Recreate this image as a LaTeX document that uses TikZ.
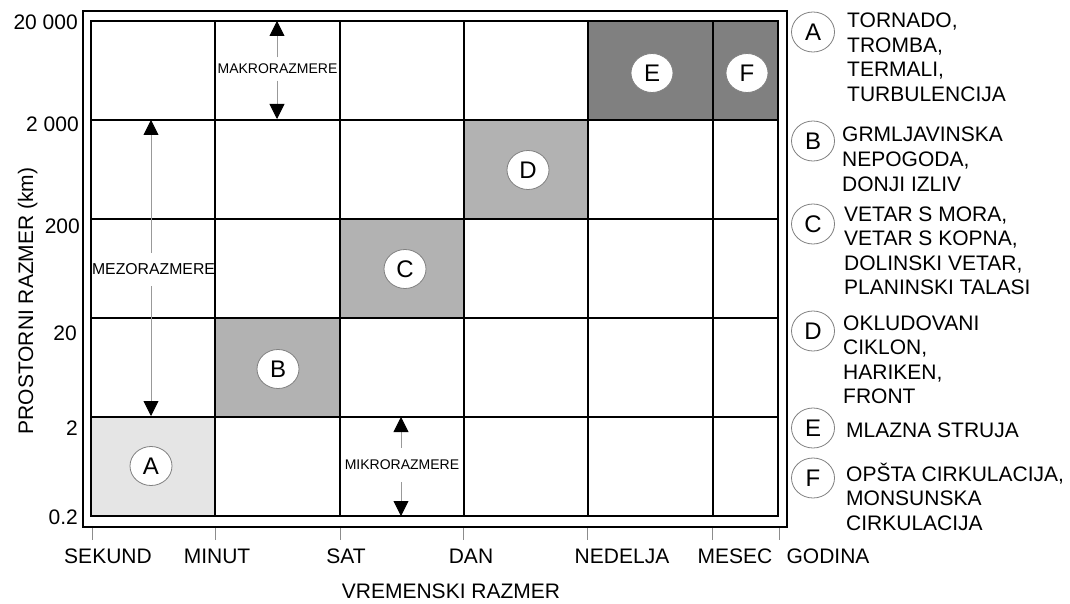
\documentclass[tikz,border=0pt]{standalone}
\usepackage{fontspec}
\setmainfont{Liberation Sans}
\usetikzlibrary{arrows.meta,shapes.geometric}
\definecolor{cellA}{gray}{0.9}
\definecolor{cellB}{gray}{0.7}
\definecolor{cellE}{gray}{0.5}
\definecolor{tickgray}{gray}{0.55}
\definecolor{shaftgray}{gray}{0.6}
\tikzset{
  gridline/.style={line width=2pt,black},
  tag/.style={ellipse, draw=gray, line width=0.8pt, fill=white, minimum width=42pt, minimum height=39pt, inner sep=0pt, font=\fontsize{24}{24}\selectfont},
  lbl/.style={font=\fontsize{21}{24.5}\selectfont, inner sep=0pt},
  leg/.style={lbl, align=left, anchor=base west},
  scalelbl/.style={inner xsep=0pt},
  dimarrow/.style={draw=shaftgray, line width=0.9pt, -{Triangle[length=15pt,width=15pt,color=black]}},
  tickmark/.style={draw=tickgray, line width=1pt},
}
\begin{document}
\begin{tikzpicture}[x=1pt,y=-1pt]
\useasboundingbox (0,0) rectangle (1070,604);
% cell fills
\fill[cellA] (91,417) rectangle (215,516);
\fill[cellB] (215,318) rectangle (340,417);
\fill[cellB] (340,219) rectangle (464,318);
\fill[cellB] (464,120) rectangle (588,219);
\fill[cellE] (588,21) rectangle (713,120);
\fill[cellE] (713,21) rectangle (778,120);
% frame and grid
\draw[gridline] (83,11) rectangle (787,527);
\draw[gridline] (91,21) rectangle (778,516);
\foreach \y in {120,219,318,417} \draw[gridline] (91,\y) -- (778,\y);
\foreach \x in {215,340,464,588,713} \draw[gridline] (\x,21) -- (\x,516);
% ticks
\foreach \x in {92,215,340,463,587,712,779} \draw[tickmark] (\x,528) -- (\x,540);
% y labels
\node[lbl, anchor=east] (y1) at (78,22) {20 000};
\node[lbl, anchor=east] (y2) at (79,124) {2 000};
\node[lbl, anchor=east] (y3) at (80,226) {200};
\node[lbl, anchor=east] (y4) at (77,333) {20};
\node[lbl, anchor=east] (y5) at (78,428) {2};
\node[lbl, anchor=east] (y6) at (78,517) {0.2};
% x labels
\node[lbl, anchor=base] (x1) at (108,563) {SEKUND};
\node[lbl, anchor=base] (x2) at (217,563) {MINUT};
\node[lbl, anchor=base] (x3) at (346,563) {SAT};
\node[lbl, anchor=base] (x4) at (471,563) {DAN};
\node[lbl, anchor=base] (x5) at (622,563) {NEDELJA};
\node[lbl, anchor=base] (x6) at (735,563) {MESEC};
\node[lbl, anchor=base] (x7) at (828,563) {GODINA};
% axis titles
\node[lbl, anchor=base] (xt) at (451,598) {VREMENSKI RAZMER};
\node[lbl, rotate=90, anchor=base] (yt) at (33,301) {PROSTORNI RAZMER (km)};
% cell tags
\node[tag] (cA) at (151,466) {A};
\node[tag] (cB) at (278,369) {B};
\node[tag] (cC) at (405,269) {C};
\node[tag] (cD) at (528,170) {D};
\node[tag] (cE) at (652,73) {E};
\node[tag] (cF) at (747,73) {F};
% scale labels and arrows
\node[scalelbl, font=\fontsize{14}{14}\selectfont, inner ysep=6.5pt] (makro) at (277.5,69) {MAKRORAZMERE};
\coordinate (makroT) at (277,21);
\coordinate (makroB) at (277,119);
\draw[dimarrow] (makroT |- makro.north) -- (makroT);
\draw[dimarrow] (makroB |- makro.south) -- (makroB);
\node[scalelbl, font=\fontsize{15.8}{16}\selectfont, inner ysep=11pt] (mezo) at (153.5,269.5) {MEZORAZMERE};
\coordinate (mezoT) at (151,120);
\coordinate (mezoB) at (151,416);
\draw[dimarrow] (mezoT |- mezo.north) -- (mezoT);
\draw[dimarrow] (mezoB |- mezo.south) -- (mezoB);
\node[scalelbl, font=\fontsize{14}{14}\selectfont, inner ysep=12pt] (mikro) at (402,465) {MIKRORAZMERE};
\coordinate (mikroT) at (401,417);
\coordinate (mikroB) at (401,516);
\draw[dimarrow] (mikroT |- mikro.north) -- (mikroT);
\draw[dimarrow] (mikroB |- mikro.south) -- (mikroB);
% legend
\node[tag, minimum width=43pt, minimum height=40pt] (lA) at (813,32) {A};
\node[tag, minimum width=43pt, minimum height=40pt] (lB) at (813,141) {B};
\node[tag, minimum width=43pt, minimum height=40pt] (lC) at (813,224) {C};
\node[tag, minimum width=43pt, minimum height=40pt] (lD) at (813,331) {D};
\node[tag, minimum width=43pt, minimum height=40pt] (lE) at (813,428) {E};
\node[tag, minimum width=43pt, minimum height=40pt] (lF) at (813,478) {F};
% anchors are at the baseline of each text's last line
\node[leg] (tA) at (847,101.5) {TORNADO,\\TROMBA,\\TERMALI,\\TURBULENCIJA};
\node[leg] (tB) at (842,191) {GRMLJAVINSKA\\NEPOGODA,\\DONJI IZLIV};
\node[leg] (tC) at (844,294.5) {VETAR S MORA,\\VETAR S KOPNA,\\DOLINSKI VETAR,\\PLANINSKI TALASI};
\node[leg] (tD) at (843,403.5) {OKLUDOVANI\\CIKLON,\\HARIKEN,\\FRONT};
\node[leg] (tE) at (846,437) {MLAZNA STRUJA};
\node[leg] (tF) at (846,530) {OPŠTA CIRKULACIJA,\\MONSUNSKA\\CIRKULACIJA};
\end{tikzpicture}
\end{document}
